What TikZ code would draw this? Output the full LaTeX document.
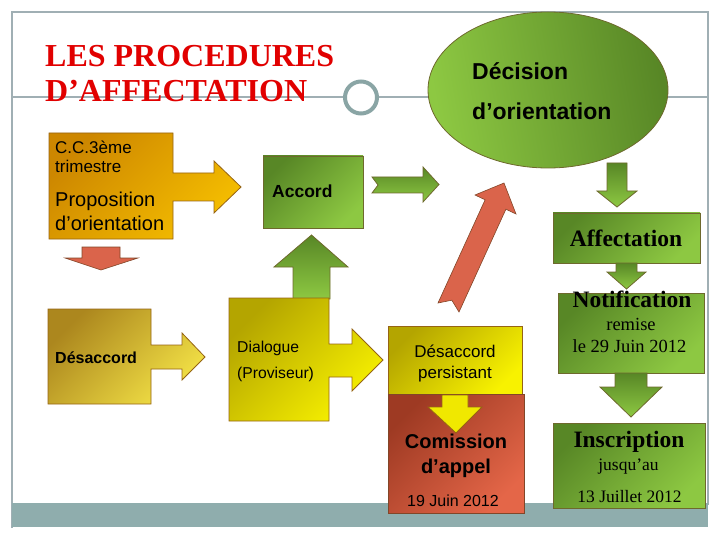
\documentclass[tikz,border=0pt]{standalone}
\usepackage{fontspec}
\setmainfont{Liberation Serif}
\setsansfont{Liberation Sans}
\definecolor{framec}{RGB}{160,175,180}
\definecolor{bandc}{RGB}{143,173,173}
\definecolor{circc}{RGB}{138,165,165}
\definecolor{titlered}{RGB}{225,0,0}
\definecolor{gdark}{RGB}{88,135,38}
\definecolor{glight}{RGB}{141,200,66}
\definecolor{goutline}{RGB}{110,105,45}
\definecolor{odark}{RGB}{205,135,0}
\definecolor{olight}{RGB}{245,190,0}
\definecolor{ooutline}{RGB}{150,100,20}
\definecolor{ddark}{RGB}{172,135,30}
\definecolor{dlight}{RGB}{243,226,70}
\definecolor{ydark}{RGB}{180,165,0}
\definecolor{ylight}{RGB}{248,242,0}
\definecolor{yarrow}{RGB}{240,232,0}
\definecolor{rdark}{RGB}{158,58,35}
\definecolor{rlight}{RGB}{228,102,72}
\definecolor{redarrow}{RGB}{218,100,75}
\definecolor{routline}{RGB}{130,70,40}
\tikzset{
  greenshape/.style={draw=goutline, line width=0.8pt, top color=gdark, bottom color=glight, shading angle=45},
  greenarrow/.style={draw=goutline, line width=0.8pt, top color=gdark, bottom color=glight},
  orangeshape/.style={draw=ooutline, line width=0.8pt, top color=odark, bottom color=olight, shading angle=45},
  goldshape/.style={draw=ooutline, line width=0.8pt, top color=ddark, bottom color=dlight, shading angle=45},
  yellowshape/.style={draw=ooutline, line width=0.8pt, top color=ydark, bottom color=ylight, shading angle=45},
  brickshape/.style={draw=routline, line width=0.8pt, top color=rdark, bottom color=rlight, shading angle=45},
  redshape/.style={draw=routline, line width=0.6pt, fill=redarrow},
  yarrowshape/.style={draw=ooutline, line width=0.8pt, fill=yarrow},
  txt/.style={inner sep=0pt, anchor=base west},
  ctxt/.style={inner sep=0pt, anchor=base},
}
\newcommand{\fsz}[1]{\fontsize{#1}{#1}\selectfont}
\begin{document}
\begin{tikzpicture}[x=1pt,y=-1pt]
\useasboundingbox (0,0) rectangle (720,540);
% frame
\draw[framec, line width=1.2pt] (12,528) -- (12,12) -- (708,12) -- (708,505);
\fill[bandc] (12,503) rectangle (708,527);
\draw[framec, line width=1.2pt] (12,97) -- (343,97);
\draw[framec, line width=1.2pt] (379,97) -- (708,97);
\draw[circc, line width=4pt, fill=white] (361,97.5) circle (16);
% title
\node[txt, text=titlered, font=\bfseries\fsz{32}] (t1) at (45,67) {LES PROCEDURES};
\node[txt, text=titlered, font=\bfseries\fsz{32}] (t2) at (45,102) {D’AFFECTATION};
% ellipse
\path[draw=goutline, line width=0.8pt, left color=glight, right color=gdark, shading angle=100] (548,90) ellipse (120 and 78);
\node[txt, font=\sffamily\bfseries\fsz{23}] (dec1) at (472,80) {Décision};
\node[txt, font=\sffamily\bfseries\fsz{23}] (dec2) at (472,120) {d’orientation};
% CC box with arrow
\path[orangeshape] (49,133) -- (173,133) -- (173,173) -- (214,173) -- (214,161) -- (241,187) -- (214,213) -- (214,201) -- (173,201) -- (173,239) -- (49,239) -- cycle;
\node[txt, font=\sffamily\fsz{17}] (cc1) at (55,154) {C.C.3ème};
\node[txt, font=\sffamily\fsz{17}] (cc2) at (55,173) {trimestre};
\node[txt, font=\sffamily\fsz{20}] (pr1) at (55,207) {Proposition};
\node[txt, font=\sffamily\fsz{20}] (pr2) at (55,230) {d’orientation};
% red small down arrow
\path[redshape] (82,247) -- (120,247) -- (120,258) -- (138,258) -- (101,270) -- (65,258) -- (82,258) -- cycle;
% Accord
\path[greenshape] (263,156) rectangle (363,228);
\node[txt, font=\sffamily\bfseries\fsz{17.5}] (acc) at (272,198) {Accord};
% green up arrow
\path[greenarrow] (293,299) -- (293,267) -- (274,267) -- (311.5,235) -- (348,267) -- (330,267) -- (330,299) -- cycle;
% small green right arrow
\path[greenarrow] (372,177) -- (423,177) -- (423,167) -- (439,184.5) -- (423,202) -- (423,193) -- (372,193) -- (378,185) -- cycle;
% red diagonal arrow
\path[redshape] (438,303) -- (451.8,300.2) -- (459,312) -- (505.9,209.2) -- (516,214) -- (504,183) -- (475,195) -- (485.1,199.8) -- cycle;
% right column
\path[greenarrow] (607,163) -- (627,163) -- (627,191) -- (637,191) -- (617,207) -- (597,191) -- (607,191) -- cycle;
\path[greenshape] (553,213) rectangle (700,263);
\node[ctxt, font=\bfseries\fsz{23.5}] (aff) at (626,247) {Affectation};
\path[greenarrow] (616,263) -- (637,263) -- (637,272) -- (646,272) -- (626.5,289) -- (607,272) -- (616,272) -- cycle;
\path[greenshape] (558,293) rectangle (704,373);
\node[ctxt, font=\bfseries\fsz{23.5}] (not) at (632,307) {Notification};
\node[ctxt, font=\fsz{18.5}] (rem) at (631,330) {remise};
\node[ctxt, font=\fsz{18.5}] (d29) at (629.5,352) {le 29 Juin 2012};
\path[greenarrow] (615,373) -- (647,373) -- (647,387) -- (662,387) -- (631,417) -- (600,387) -- (615,387) -- cycle;
\path[greenshape] (553,423) rectangle (705,508);
\node[ctxt, font=\bfseries\fsz{23.5}] (ins) at (629,447) {Inscription};
\node[ctxt, font=\fsz{17.5}] (jus) at (628.5,470) {jusqu’au};
\node[ctxt, font=\fsz{17.5}] (d13) at (629.5,502) {13 Juillet 2012};
% Desaccord left with arrow
\path[goldshape] (48,309) -- (151,309) -- (151,345) -- (182,345) -- (182,333) -- (205,357) -- (182,380) -- (182,369) -- (151,369) -- (151,404) -- (48,404) -- cycle;
\node[txt, font=\sffamily\bfseries\fsz{16}] (des) at (55,363) {Désaccord};
% Dialogue with arrow
\path[yellowshape] (229,298) -- (329,298) -- (329,344) -- (352,344) -- (352,329) -- (383,360) -- (352,391) -- (352,377) -- (329,377) -- (329,421) -- (229,421) -- cycle;
\node[txt, font=\sffamily\fsz{15.7}] (dia) at (237,352) {Dialogue};
\node[txt, font=\sffamily\fsz{15.7}] (pro) at (237,378) {(Proviseur)};
% Desaccord persistant / Comission
\path[yellowshape] (388,326) rectangle (522,395);
\node[ctxt, font=\sffamily\fsz{17}] (dp1) at (455,357) {Désaccord};
\node[ctxt, font=\sffamily\fsz{17}] (dp2) at (455,378) {persistant};
\path[brickshape] (388,394) rectangle (524,513);
\path[yarrowshape] (442,395) -- (468,395) -- (468,407) -- (482,407) -- (456,433) -- (428,407) -- (442,407) -- cycle;
\node[ctxt, font=\sffamily\bfseries\fsz{20}] (com1) at (456,448) {Comission};
\node[ctxt, font=\sffamily\bfseries\fsz{20}] (com2) at (456,473) {d’appel};
\node[ctxt, font=\sffamily\fsz{16}] (d19) at (453,506) {19 Juin 2012};
\end{tikzpicture}
\end{document}
